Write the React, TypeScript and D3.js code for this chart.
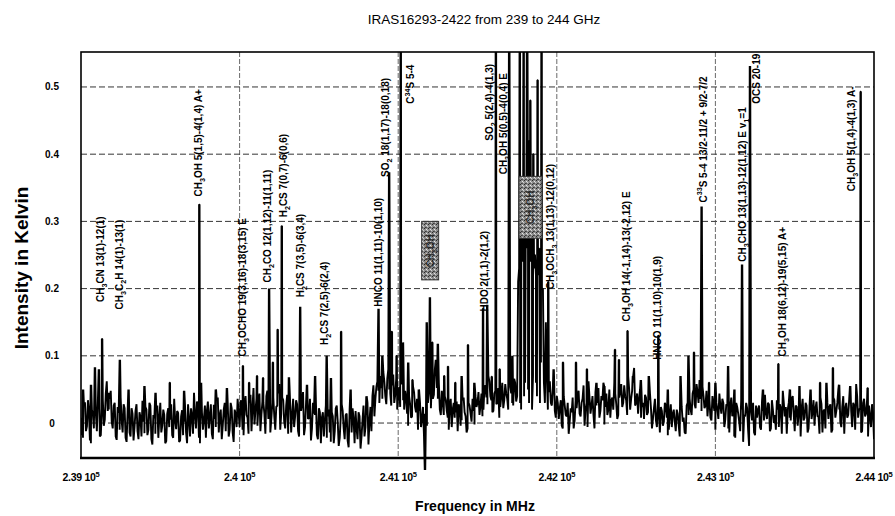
import * as d3 from "d3";

const title = "IRAS16293-2422 from 239 to 244 GHz";
const xTitle = "Frequency in MHz";
const yTitle = "Intensity in Kelvin";

const xTicks = [239000, 240000, 241000, 242000, 243000, 244000];
const xTickLabels = ["2.39 10^5", "2.4 10^5", "2.41 10^5", "2.42 10^5", "2.43 10^5", "2.44 10^5"];
const yTicks = [0, 0.1, 0.2, 0.3, 0.4, 0.5];
const yTickLabels = ["0", "0.1", "0.2", "0.3", "0.4", "0.5"];

// baseline, in mK, one sample every 12.5 MHz from 239000 MHz
const noiseStart = 239000;
const noiseStep = 12.5;
const noise = [
  8, -22, 31, -5, 18, -30, 12, 40, -12, 25, -18, 35, 5, 62, 20, 48, -8, 30, -25, 15, 38, -14, 22, -28, 10,
  -20, 14, -6, 28, -24, 9, 33, -15, 20, -10, 26, -32, 7, 18, -22, 30, -4, 12, -27, 22, 5, -18, 36, -9, 15,
  -26, 19, 2, -14, 28, -20, 11, 45, -8, 24, -30, 16, 6, -22, 32, 10, -16, 27, -6, 38, 12, -24, 20, -12, 30,
  -10, 22, -28, 14, 36, -6, 26, -18, 40, 8, 30, -12, 52, 18, -4, 44, 12, 30, -16, 48, 20, 6, 38, -10, 26,
  58, 14, 34, -8, 42, 20, -14, 36, 10, 28, -20, 18, 46, -6, 24, 8, -26, 30, 12, -18, 22, -30, 16, 4, -22,
  20, -28, 10, -12, 26, -34, 8, 18, -24, 14, -36, 6, 22, -30, -8, 16, -38, 4, -20, 12, -32, 24, 40, 10, 54,
  48, 70, 36, 62, 28, 80, 44, 56, 30, 66, 40, 24, 58, 20, 36, -4, 28, 10, 46, 16, -10, 30, 6, -18, 12,
  30, 50, 64, 42, 74, 36, 20, 48, 12, 34, 8, 26, -6, 30, 16, -12, 22, 4, 38, 10, -8, 26, 2, 18, 40,
  30, 12, 44, 20, 56, 28, 62, 34, 18, 48, 30, 8, 40, 22, 58, 36, 70, 44, 26, 60, 40, 230, 20, 250, 60,
  260, 30, 240, 70, 250, 40, 220, 90, 200, 30, 70, 46, 30, 52, 18, 40, 6, 34, -8, 26, 10, -16, 22, 38, 4,
  22, 48, 10, 36, -4, 30, 62, 14, 40, -8, 26, 52, 18, 34, -2, 44, 20, 8, 38, 60, 28, 12, 46, 24, 56,
  34, 70, 20, 48, 82, 30, 14, 50, 24, 6, 38, 16, 44, -8, 22, 4, 30, -14, 18, 2, 26, -18, 12, -6, 20,
  -12, 14, -20, 24, 8, -16, 30, 36, 12, 50, 22, 46, 64, 18, 40, 26, 10, 34, 4, 28, -10, 20, 44, 14, 30,
  6, 26, -14, 38, 16, -22, 24, 2, 34, -28, 10, 22, -34, 16, 30, -18, 8, 26, -10, 18, 42, 6, 28, -8, 20,
  12, 34, -6, 22, 48, 10, -16, 30, 4, 40, -12, 24, 14, -20, 36, 8, 26, -8, 44, 16, -4, 32, 10, 38, -14,
  20, 42, 6, 28, -10, 34, 18, 50, 2, 24, -16, 30, 12, 46, -6, 26, 58, 8, 22, -12, 36, 14, -20, 10, 28,
  -24,
];
// the channels in between, starting at 239006.25 MHz
const noiseMid = [
  -18, 26, -12, 34, -26, 20, -8, 14, 30, -20, 22, -4, 44, 18, 36, 2, 26, -20, 24, -10, 4, 28, -22, 16, -14,
  22, -26, 18, -12, 16, -20, 2, 24, -18, 30, -24, 12, -16, 26, 8, -14, 20, -30, 14, -6, 28, -22, 4, 18, -28,
  10, -18, 24, -30, 6, 22, -16, 12, 32, -22, 14, -10, 26, 18, -8, 28, -24, 6, 34, -14, 20, -4, 30, 16, -20,
  30, -14, 20, -6, 16, 34, -10, 28, 12, -16, 42, 22, -2, 36, 26, -12, 32, 14, 40, 6, -14, 30, 10, 24, 44,
  -10, 38, 2, 26, -16, 30, 12, -6, 34, -12, 20, 30, -18, 28, 6, 36, -8, 14, 30, -24, 16, 8, -20, 26, 10,
  -14, 16, -30, 22, 2, -22, 28, -8, 12, -26, 20, -14, 6, 18, -24, 10, -20, 26, -6, 30, 2, -12, 56, 36, 62,
  30, 52, 76, 40, 66, 50, 26, 72, 42, 20, 54, 62, 34, 48, 14, 40, 8, 54, 24, 36, 18, -6, 24, 14, -4,
  44, 22, 36, 80, 52, 60, 12, 30, 40, 18, -10, 36, 20, 8, 32, 28, -4, 34, 16, -14, 30, 14, 36, -2, 24,
  46, 26, 10, 52, 38, 70, 40, 16, 44, 28, 52, 24, 60, 34, 44, 20, 54, 30, 66, 32, 210, 30, 240, 40, 270,
  50, 250, 20, 230, 60, 260, 30, 200, 60, 150, 20, 62, 26, 44, 8, 30, 22, -4, 40, 12, 30, 2, 16, -8, 34,
  40, 14, 30, 56, 20, -6, 38, 26, 12, 46, 30, 8, 40, 60, 24, 12, 50, 34, 20, 44, 6, 38, 58, 30, 40,
  12, 50, 36, 60, 26, 44, 36, 8, 30, 42, 12, 34, 22, 6, 36, -6, 14, 24, -4, 30, 8, -10, 28, 14, 2,
  20, -4, 30, 2, -14, 26, 12, 20, 44, 28, 58, 30, 36, 54, 22, 48, 30, 8, 40, 18, 30, 6, 26, 36, -6,
  28, -8, 24, 10, -20, 30, 14, -12, 20, 12, 30, -10, 24, 4, -14, 26, 20, -6, 32, 4, 14, 30, -12, 34, 0,
  -10, 20, 28, -16, 30, 24, 20, 8, 36, 14, 26, -4, 38, 22, 4, 30, -14, 26, 6, 34, 22, 10, -16, 28, 18,
  -8, 30, 24, -14, 38, 8, 30, 20, -6, 40, 22, 8, 36, 18, 30, -10, 40, 20, -14, 30, 10, 34, 26, -6, 16,
];

// spectral lines: frequency (MHz) and peak intensity (K)
const lineFreqs = [
  239013, 239063, 239088, 239113, 239133, 239175, 239245, 239300, 239400, 239470, 239560, 239650,
  239746, 239757, 239850, 239920, 240021, 240060, 240110, 240148, 240186, 240210, 240240, 240266,
  240311, 240382, 240425, 240476, 240549, 240576, 240640, 240700, 240800, 240876, 240900, 240943,
  240960, 240990, 241016, 241030, 241063, 241090, 241130, 241169, 241180, 241200, 241215, 241238,
  241250, 241290, 241314, 241360, 241400, 241440, 241480, 241535, 241561, 241590, 241616, 241640,
  241700, 241720, 241767, 241775, 241791, 241798, 241807, 241813, 241820, 241829, 241833, 241842,
  241852, 241860, 241870, 241879, 241888, 241896, 241904, 241946, 241980, 242039, 242121, 242190,
  242250, 242300, 242367, 242392, 242446, 242480, 242530, 242580, 242640, 242700, 242780, 242830,
  242865, 242913, 242960, 243000, 243080, 243120, 243168, 243218, 243300, 243397, 243470, 243530,
  243600, 243660, 243700, 243741, 243780, 243850, 243916, 243960,
];
const lineHeights = [
  0.05, 0.057, 0.083, 0.08, 0.125, 0.045, 0.094, 0.05, 0.055, 0.045, 0.06, 0.048,
  0.325, 0.06, 0.05, 0.052, 0.085, 0.06, 0.07, 0.067, 0.2, 0.09, 0.139, 0.293,
  0.068, 0.173, 0.057, 0.07, 0.1, 0.067, 0.136, 0.05, 0.04, 0.17, 0.1, 0.373,
  0.136, 0.1, 0.62, 0.12, 0.09, 0.064, 0.05, -0.07, 0.15, 0.187, 0.12, 0.094,
  0.118, 0.07, 0.084, 0.06, 0.07, 0.116, 0.06, 0.17, 0.176, 0.069, 0.62, 0.08,
  0.62, 0.1, 0.62, 0.28, 0.62, 0.3, 0.35, 0.62, 0.32, 0.42, 0.48, 0.3,
  0.4, 0.25, 0.22, 0.51, 0.26, 0.22, 0.62, 0.21, 0.08, 0.09, 0.09, 0.08,
  0.06, 0.055, 0.109, 0.094, 0.137, 0.07, 0.064, 0.07, 0.13, 0.05, 0.07, 0.1,
  0.105, 0.322, 0.06, 0.06, 0.085, 0.05, 0.236, 0.531, 0.05, 0.088, 0.05, 0.055,
  0.05, 0.06, 0.06, 0.082, 0.057, 0.055, 0.493, 0.052,
];

// line identifications: text, frequency where it sits, intensity where it starts
const labelTexts = [
  "CH_3CN 13(1)-12(1)",
  "CH_3C_2H 14(1)-13(1)",
  "CH_3OH 5(1,5)-4(1,4) A+",
  "CH_3OCHO 19(3,16)-18(3,15) E",
  "CH_2CO 12(1,12)-11(1,11)",
  "H_2CS 7(0,7)-6(0,6)",
  "H_2CS 7(3,5)-6(3,4)",
  "H_2CS 7(2,5)-6(2,4)",
  "HNCO 11(1,11)-10(1,10)",
  "SO_2 18(1,17)-18(0,18)",
  "C^34S 5-4",
  "HDO 2(1,1)-2(1,2)",
  "SO_2 5(2,4)-4(1,3)",
  "CH_3OH 5(0,5)-4(0,4) E",
  "CH_3OCH_3 13(1,13)-12(0,12)",
  "CH_3OH 14(-1,14)-13(-2,12) E",
  "HNCO 11(1,10)-10(1,9)",
  "C^33S 5-4 13/2-11/2 + 9/2-7/2",
  "CH_3CHO 13(1,13)-12(1,12) E v_1=1",
  "OCS 20-19",
  "CH_3OH 18(6,12)-19(5,15) A+",
  "CH_3OH 5(1,4)-4(1,3) A-",
];
const labelFreqs = [
  239126, 239240, 239738, 240021, 240179, 240274, 240387, 240538, 240873, 240917, 241080,
  241541, 241573, 241661, 241963, 242442, 242632, 242922, 243168, 243262, 243420, 243861,
];
const labelLevels = [
  0.18, 0.169, 0.337, 0.099, 0.209, 0.306, 0.187, 0.116, 0.173, 0.366, 0.475,
  0.166, 0.42, 0.37, 0.199, 0.151, 0.094, 0.328, 0.24, 0.475, 0.099, 0.345,
];

// blanked (stippled) identification boxes
const boxTexts = ["CH_3OH", "CH_3OH"];
const boxFreqs = [[241148, 241255], [241762, 241907]];
const boxLevels = [[0.213, 0.3], [0.275, 0.367]];

const W = 895;
const H = 516;
const FONT = "'Liberation Sans', Arial, sans-serif";

function Rich({ text, size }: { text: string; size: number }) {
  const parts = text.split(/(_\d|\^\d+)/).filter((p) => p.length > 0);
  let cur = 0;
  return (
    <>
      {parts.map((p, i) => {
        let want = 0;
        let fs = size;
        let s = p;
        if (p[0] === "_") {
          want = size * 0.3;
          fs = size * 0.72;
          s = p.slice(1);
        } else if (p[0] === "^") {
          want = -size * 0.42;
          fs = size * 0.72;
          s = p.slice(1);
        }
        const dy = want - cur;
        cur = want;
        return (
          <tspan key={i} dy={dy} fontSize={fs}>
            {s}
          </tspan>
        );
      })}
    </>
  );
}

export default function App() {
  const x = d3.scaleLinear().domain([239000, 244000]).range([81, 874]);
  const y = d3.scaleLinear().domain([-0.052, 0.552]).range([458, 52]);

  const pts: [number, number][] = noise.map((v, i) => [noiseStart + i * noiseStep, v / 1000]);
  noiseMid.forEach((v, i) => pts.push([noiseStart + (i + 0.5) * noiseStep, v / 1000]));
  lineFreqs.forEach((f, i) => {
    pts.push([f - 1.5, lineHeights[i]]);
    pts.push([f + 1.5, lineHeights[i]]);
  });
  pts.sort((a, b) => a[0] - b[0]);

  const line = d3
    .line<[number, number]>()
    .x((d) => x(d[0]))
    .y((d) => y(d[1]));

  const [x0, x1] = x.range();
  const [yb, yt] = y.range();

  return (
    <div>
      <style>{`body{margin:0}`}</style>
      <svg width={W} height={H} style={{ display: "block", background: "#fff" }}>
        <defs>
          <clipPath id="plot">
            <rect x={x0} y={yt} width={x1 - x0} height={yb - yt + 14} />
          </clipPath>
          <pattern id="stipple" width="4" height="4" patternUnits="userSpaceOnUse">
            <rect width="4" height="4" fill="#8c8c8c" />
            <rect x="0" y="0" width="1" height="1" fill="#2a2a2a" />
            <rect x="2" y="1" width="1" height="1" fill="#e6e6e6" />
            <rect x="1" y="3" width="1" height="1" fill="#3a3a3a" />
            <rect x="3" y="2" width="1" height="1" fill="#d0d0d0" />
            <rect x="2" y="3" width="1" height="1" fill="#555" />
          </pattern>
        </defs>

        <text x={484} y={24} textAnchor="middle" fontFamily={FONT} fontSize={13.5}>
          {title}
        </text>

        {/* grid */}
        {yTicks.map((t) => (
          <line key={"gy" + t} x1={x0} x2={x1} y1={y(t)} y2={y(t)} stroke="#000" strokeWidth={0.8} strokeDasharray="6,3" />
        ))}
        {xTicks.slice(1, -1).map((t) => (
          <line key={"gx" + t} x1={x(t)} x2={x(t)} y1={yt} y2={yb} stroke="#444" strokeWidth={0.8} strokeDasharray="5,2" />
        ))}

        {/* spectrum */}
        <path d={line(pts) || ""} fill="none" stroke="#000" strokeWidth={1.9} strokeLinejoin="bevel" clipPath="url(#plot)" />

        {/* blanked boxes */}
        {boxTexts.map((t, i) => {
          const bx0 = x(boxFreqs[i][0]);
          const bx1 = x(boxFreqs[i][1]);
          const by0 = y(boxLevels[i][1]);
          const by1 = y(boxLevels[i][0]);
          const cx = (bx0 + bx1) / 2;
          const cy = (by0 + by1) / 2;
          return (
            <g key={"box" + i}>
              <rect x={bx0} y={by0} width={bx1 - bx0} height={by1 - by0} fill="url(#stipple)" stroke="#333" strokeWidth={1} />
              <text
                transform={`translate(${cx + 3.5},${cy}) rotate(-90)`}
                textAnchor="middle"
                fontFamily={FONT}
                fontWeight="bold"
                fontSize={10}
                fill="#1a1a1a"
                opacity={0.8}
              >
                <Rich text={t} size={10} />
              </text>
            </g>
          );
        })}

        {/* line identifications */}
        {labelTexts.map((t, i) => (
          <text
            key={"lab" + i}
            transform={`translate(${x(labelFreqs[i]) + 3.5},${y(labelLevels[i])}) rotate(-90)`}
            fontFamily={FONT}
            fontWeight="bold"
            fontSize={10}
            fill="#000"
          >
            <Rich text={t} size={10} />
          </text>
        ))}

        {/* frame */}
        <rect x={x0} y={yt} width={x1 - x0} height={yb - yt} fill="none" stroke="#000" strokeWidth={1.6} />
        <line x1={x0 - 1} x2={x1 + 1} y1={yb} y2={yb} stroke="#000" strokeWidth={2.6} />

        {/* tick labels */}
        {yTicks.map((t, i) => (
          <text key={"yl" + t} x={52} y={y(t) + 3.5} textAnchor="middle" fontFamily={FONT} fontWeight="bold" fontSize={10}>
            {yTickLabels[i]}
          </text>
        ))}
        {xTicks.map((t, i) => (
          <text key={"xl" + t} x={x(t)} y={481} textAnchor="middle" fontFamily={FONT} fontWeight="bold" fontSize={10.5} letterSpacing={-0.3}>
            <Rich text={xTickLabels[i]} size={10.5} />
          </text>
        ))}

        <text x={475} y={511} textAnchor="middle" fontFamily={FONT} fontWeight="bold" fontSize={14}>
          {xTitle}
        </text>
        <text transform="translate(28,268) rotate(-90)" textAnchor="middle" fontFamily={FONT} fontWeight="bold" fontSize={19}>
          {yTitle}
        </text>
      </svg>
    </div>
  );
}
